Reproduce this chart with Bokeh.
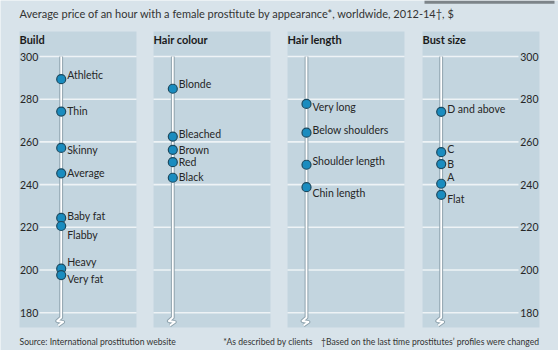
from bokeh.plotting import figure
from bokeh.models import Range1d, Label, ColumnDataSource
from bokeh.embed import file_html
from bokeh.resources import INLINE
from bokeh.core.properties import value

# ---------------- data ----------------
ticks = [180, 200, 220, 240, 260, 280, 300]
tick_labels = ["180", "200", "220", "240", "260", "280", "300"]

panel_titles = ["Build", "Hair colour", "Hair length", "Bust size"]

build_cats = ["Athletic", "Thin", "Skinny", "Average", "Baby fat", "Flabby", "Heavy", "Very fat"]
build_vals = [289.4, 274.2, 257.2, 245.3, 224.4, 220.6, 200.6, 197.6]

hair_colour_cats = ["Blonde", "Bleached", "Brown", "Red", "Black"]
hair_colour_vals = [284.9, 262.5, 256.3, 250.5, 243.2]

hair_length_cats = ["Very long", "Below shoulders", "Shoulder length", "Chin length"]
hair_length_vals = [277.8, 264.3, 249.3, 238.8]

bust_cats = ["D and above", "C", "B", "A", "Flat"]
bust_vals = [274.1, 255.2, 249.6, 240.4, 235.2]

title_text = "Average price of an hour with a female prostitute by appearance*, worldwide, 2012-14\u2020, $"
source_text = "Source: International prostitution website"
note1_text = "*As described by clients"
note2_text = "\u2020Based on the last time prostitutes\u2019 profiles were changed"

# ---------------- layout / style ----------------
W, H = 558, 350
K = 2.135          # pixels per dollar
PY300 = 56.0       # screen row of the 300 gridline


def v(py):
    """screen row (from top) -> price units"""
    return 300 - (py - PY300) / K


BG = "#d8e3ea"
PANEL = "#c3d5df"
GRID = "#eef3f6"
STEM_OUT = "#8ea2ad"
DOT_FILL = "#1a8cbf"
DOT_LINE = "#1c4a60"
TXT = "#262626"
FONT = "Lato"

# panel: left, right, stem x, grid left, grid right
panels = [
    (19, 136, 60.7, 39, 136),
    (153, 270, 172.3, 153, 270),
    (287, 404, 306.0, 287, 404),
    (422, 539, 440.7, 422, 518),
]
# label vertical nudges in px (positive = up)
nudges = [
    [4, 1, -2, 0, 2, -9, 7, -4],
    [5, 3, 0, 0, 1],
    [-3, 3, 4, -6],
    [3, 3, 0, 7, -4],
]
series = [
    (build_cats, build_vals),
    (hair_colour_cats, hair_colour_vals),
    (hair_length_cats, hair_length_vals),
    (bust_cats, bust_vals),
]

p = figure(width=W, height=H, output_backend="svg", toolbar_location=None,
           x_range=Range1d(0, W), y_range=Range1d(v(H), v(0)),
           min_border=0, min_border_left=0, min_border_right=0,
           min_border_top=0, min_border_bottom=0)
p.axis.visible = False
p.xgrid.visible = False
p.ygrid.visible = False
p.outline_line_color = None
p.background_fill_color = BG
p.border_fill_color = BG

# top-right tag bar
p.quad(left=[424], right=[554], top=[v(0)], bottom=[v(3.2)], fill_color="#7d8489", line_color=None)

for i, (left, right, sx, gl, gr) in enumerate(panels):
    # panel background
    p.quad(left=[left], right=[right], top=[v(31)], bottom=[v(327)],
           fill_color=PANEL, line_color=None)
    # gridlines
    p.segment(x0=[gl] * len(ticks), x1=[gr] * len(ticks), y0=ticks, y1=ticks,
              line_color=GRID, line_width=1.6)
    # panel title
    p.text(x=[left], y=[v(38.5)], text=[panel_titles[i]], text_font=value(FONT),
           text_font_size="11px", text_font_style="bold", text_color="#1a1a1a",
           text_baseline="middle", text_align="left")
    # stem with break symbol
    zx = [sx, sx, sx - 4, sx + 2, sx - 3]
    zy = [300, v(317), v(320.5), v(321.5), v(325)]
    p.line(x=zx, y=zy, line_color=STEM_OUT, line_width=3.8, line_join="round")
    p.line(x=zx, y=zy, line_color="white", line_width=1.8, line_join="round")
    # dots
    cats, vals = series[i]
    src = ColumnDataSource(dict(x=[sx] * len(vals), y=vals, t=cats,
                                dy=[-n for n in nudges[i]]))
    p.scatter(x="x", y="y", source=src, size=9, fill_color=DOT_FILL,
              line_color=DOT_LINE, line_width=1.2)
    p.text(x="x", y="y", text="t", source=src, x_offset=6, y_offset="dy",
           text_font=value(FONT), text_font_size="10.5px", text_color=TXT,
           text_baseline="middle", text_align="left")

# tick labels (left in first panel, right in last panel)
p.text(x=[19.5] * len(ticks), y=ticks, text=tick_labels, text_font=value(FONT),
       text_font_size="10.5px", text_color=TXT, text_baseline="middle", text_align="left")
p.text(x=[538] * len(ticks), y=ticks, text=tick_labels, text_font=value(FONT),
       text_font_size="10.5px", text_color=TXT, text_baseline="middle", text_align="right")

# titles and notes
p.add_layout(Label(x=19, y=H - 13, x_units="screen", y_units="screen", text=title_text,
                   text_font=FONT, text_font_size="11px", text_color="#333333",
                   text_baseline="middle", text_align="left"))
p.add_layout(Label(x=19, y=H - 341, x_units="screen", y_units="screen", text=source_text,
                   text_font=FONT, text_font_size="8.6px", text_color="#333333",
                   text_baseline="middle", text_align="left"))
p.add_layout(Label(x=539, y=H - 341, x_units="screen", y_units="screen",
                   text=note1_text + "\u2002\u2002" + note2_text,
                   text_font=FONT, text_font_size="8.6px", text_color="#333333",
                   text_baseline="middle", text_align="right"))

open("out.html", "w").write(file_html(p, INLINE))
